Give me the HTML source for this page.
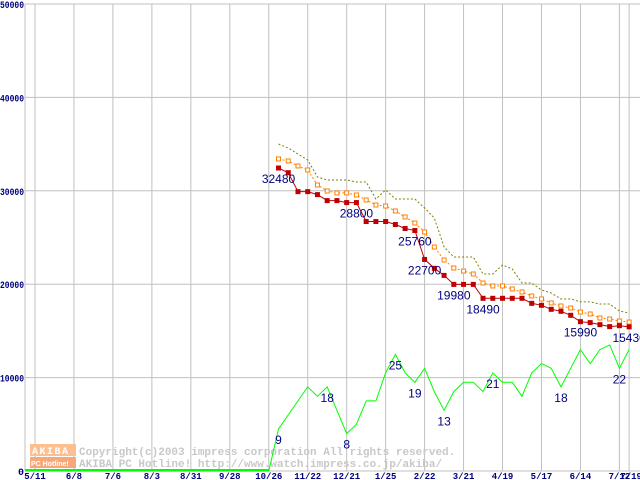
<!DOCTYPE html>
<html><head><meta charset="utf-8"><style>
body{margin:0;background:#fff;}
svg{display:block;font-family:"Liberation Sans",sans-serif;}
</style></head><body>
<svg id="chart" width="640" height="480"></svg>
<script>
const tickLabels=["5/11","6/8","7/6","8/3","8/31","9/28","10/26","11/22","12/21","1/25","2/22","3/21","4/19","5/17","6/14","7/12"];
const yTicks=[0,10000,20000,30000,40000,50000];
const minPrice=[32440,31940,29910,29910,29590,28950,28950,28740,28740,26710,26710,26710,26390,25960,25750,22650,21700,20940,19980,19980,19980,18490,18490,18490,18490,18490,17950,17740,17310,17100,16670,15990,15890,15670,15460,15560,15430];
const avgPrice=[33410,33190,32660,32230,30620,29980,29770,29770,29550,29020,28480,28370,27840,27200,26550,25590,23980,22590,21730,21410,21090,20130,19810,19810,19490,19170,18740,18420,17990,17670,17450,17020,16810,16380,16270,16060,15950];
const maxPrice=[35010,34580,33940,33300,31480,31160,31160,31160,30940,30940,29120,30090,29120,29120,29120,28160,27090,23980,22910,22910,22910,21090,21090,22060,21630,20130,20130,19380,19060,18420,18420,18100,18100,17880,17880,17130,16920];
const shopCount=[9,12,15,18,16,18,13,8,10,15,15,21,25,21,19,22,17,13,17,19,19,17,21,19,19,16,21,23,22,18,22,26,23,26,27,22,26];
const priceLabelIdx=[0,8,14,15,18,21,31,36];
const priceLabelText=["32480","28800","25760","22700","19980","18490","15990","15430"];
const countLabelIdx=[0,5,7,12,14,17,22,29,35];
const firstWeek=25;
const NS="http://www.w3.org/2000/svg";
const svg=document.getElementById('chart');
const xw=w=>35+w*9.74;
const xi=i=>xw(firstWeek+i);
const yv=v=>471-v*467/50000;
function mk(tag,attrs,parent){const e=document.createElementNS(NS,tag);for(const k in attrs)e.setAttribute(k,attrs[k]);(parent||svg).appendChild(e);return e;}
yTicks.forEach((t,k)=>{
  const l=mk('line',{x1:25,x2:640,y1:yv(t),y2:yv(t),stroke:'#c0c0c0','stroke-width':1});
  
  
  const s=String(t);
  const attrs={x:24,y:yv(t)+4,'text-anchor':'end','font-size':10,'font-weight':'bold',fill:'#000080','font-family':'Liberation Mono,monospace'};
  if(s.length>1){attrs.textLength=24;attrs.lengthAdjust='spacingAndGlyphs';attrs.x=0;attrs['text-anchor']='start';}
  const tx=mk('text',attrs);
  tx.textContent=s;
  
  
});
const vl=mk('line',{x1:25,x2:25,y1:4,y2:471,stroke:'#c0c0c0'});


tickLabels.forEach((t,k)=>{
  const x=xw(k*4);
  const l=mk('line',{x1:x,x2:x,y1:4,y2:471,stroke:'#c0c0c0','stroke-width':1});
  
  
  const tx=mk('text',{x:x,y:479,'text-anchor':'middle','font-size':9,'font-weight':'bold',fill:'#000080','font-family':'Liberation Mono,monospace'});
  tx.textContent=t;
  
  
});
const lastG=mk('line',{x1:xw(61),x2:xw(61),y1:4,y2:471,stroke:'#c0c0c0'});


const lt=mk('text',{x:xw(61)+2,y:479,'text-anchor':'middle','font-size':9,'font-weight':'bold',fill:'#000080','font-family':'Liberation Mono,monospace'});
lt.textContent="7/19";


const g=mk('g',{});


mk('rect',{x:30,y:444,width:46,height:12,fill:'#fcc090'},g);
mk('rect',{x:30,y:457,width:46,height:11,fill:'#f8a878'},g);
const a1=mk('text',{x:32,y:454,'font-size':10,'font-weight':'bold',fill:'#fff','font-family':'Liberation Mono,monospace','letter-spacing':1.5},g);a1.textContent="AKIBA";
const a2=mk('text',{x:31,y:466,'font-size':7,'font-weight':'bold',fill:'#fff'},g);a2.textContent="PC Hotline!";
const w1=mk('text',{x:79,y:455,'font-size':11,'font-weight':'bold',fill:'#c8c8c8','font-family':'Liberation Mono,monospace'},g);w1.textContent="Copyright(c)2003 impress corporation All rights reserved.";
const w2=mk('text',{x:79,y:467,'font-size':11,'font-weight':'bold',fill:'#c8c8c8','font-family':'Liberation Mono,monospace'},g);w2.textContent="AKIBA PC Hotline!  http://www.watch.impress.co.jp/akiba/";
const ba=mk('line',{x1:25,x2:640,y1:471,y2:471,stroke:'#c0c0c0'});


function poly(vals,fn,attrs,name){
  const pts=vals.map((v,i)=>xi(i).toFixed(1)+','+fn(v).toFixed(1)).join(' ');
  const p=mk('polyline',Object.assign({points:pts,fill:'none'},attrs));
  
  
  return p;
}
const zeroPts=[[25,471],[xw(firstWeek-1),471]];
const gp=mk('polyline',{points:zeroPts.map(p=>p.join(',')).join(' ')+' '+shopCount.map((v,i)=>xi(i).toFixed(1)+','+yv(v*500).toFixed(1)).join(' '),fill:'none',stroke:'#00ff00','stroke-width':1});


const gz=mk('line',{x1:25,x2:xw(firstWeek-1),y1:470,y2:470,stroke:'#00ff00','stroke-width':2});


poly(maxPrice,yv,{stroke:'#808000','stroke-width':1,'stroke-dasharray':'2,2'},'max-price-line');
poly(avgPrice,yv,{stroke:'#ff8000','stroke-width':1,'stroke-dasharray':'2,2'},'avg-price-line');
avgPrice.forEach((v,i)=>{
  const r=mk('rect',{x:xi(i)-2,y:yv(v)-2,width:4,height:4,fill:'#fff',stroke:'#ff8000','stroke-width':1});
  
  
});
poly(minPrice,yv,{stroke:'#c00000','stroke-width':1},'min-price-line');
minPrice.forEach((v,i)=>{
  const r=mk('rect',{x:xi(i)-2.5,y:yv(v)-2.5,width:5,height:5,fill:'#c00000'});
  
  
});
priceLabelIdx.forEach((idx,k)=>{
  const t=mk('text',{x:xi(idx),y:yv(minPrice[idx])+15,'text-anchor':'middle','font-size':12,fill:'#000080'});
  t.textContent=priceLabelText[k];
  
  
});
countLabelIdx.forEach(idx=>{
  const t=mk('text',{x:xi(idx),y:yv(shopCount[idx]*500)+15,'text-anchor':'middle','font-size':12,fill:'#000080'});
  t.textContent=shopCount[idx];
  
  
});
</script>
</body></html>
